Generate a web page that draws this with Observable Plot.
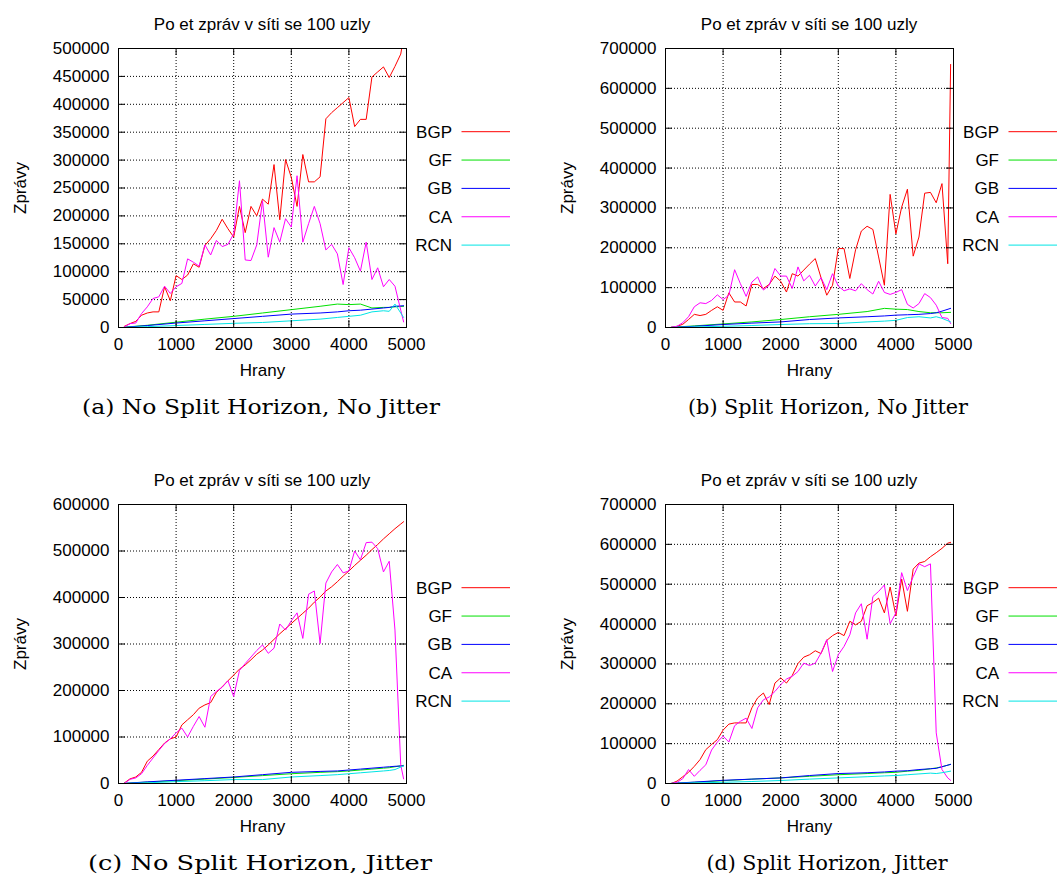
<!DOCTYPE html>
<html>
<head>
<meta charset="utf-8">
<script src="https://cdn.jsdelivr.net/npm/d3@7"></script>
<script src="https://cdn.jsdelivr.net/npm/@observablehq/plot@0.6"></script>
<style>
  html, body { margin: 0; padding: 0; background: #fff; }
  body { width: 1057px; height: 875px; position: relative; overflow: hidden; font-family: "Liberation Sans", Arial, sans-serif; }
  .panel { position: absolute; }
  .panel svg { position: absolute; left: 0; top: 0; overflow: visible; }
</style>
</head>
<body>
<script>
// ---------- data ----------
const SERIES = ["BGP", "GF", "GB", "CA", "RCN"];
const COLORS = ["#ff0000", "#00e000", "#0000ff", "#ff00ff", "#00e5e5"];
const TITLE = "Po et zpráv v síti se 100 uzly";
const X_LABEL = "Hrany";
const Y_LABEL = "Zprávy";
const CAPTIONS = [
  "(a) No Split Horizon, No Jitter",
  "(b) Split Horizon, No Jitter",
  "(c) No Split Horizon, Jitter",
  "(d) Split Horizon, Jitter"
];

const X_TICKS = [0, 1000, 2000, 3000, 4000, 5000];
const Y_TICKS_A = [0, 50000, 100000, 150000, 200000, 250000, 300000, 350000, 400000, 450000, 500000];
const Y_TICKS_B = [0, 100000, 200000, 300000, 400000, 500000, 600000, 700000];
const Y_TICKS_C = [0, 100000, 200000, 300000, 400000, 500000, 600000];
const Y_TICKS_D = [0, 100000, 200000, 300000, 400000, 500000, 600000, 700000];

// edges for the jagged series (BGP, CA)
const EDGES = [100, 200, 300, 400, 500, 600, 700, 800, 900, 1000,
  1100, 1200, 1300, 1400, 1500, 1600, 1700, 1800, 1900, 2000,
  2100, 2200, 2300, 2400, 2500, 2600, 2700, 2800, 2900, 3000,
  3100, 3200, 3300, 3400, 3500, 3600, 3700, 3800, 3900, 4000,
  4100, 4200, 4300, 4400, 4500, 4600, 4700, 4800, 4900, 4950];
// edges read for the smooth series (GF, GB, RCN)
const SMOOTH_EDGES = [100, 500, 1000, 1500, 2000, 2500, 3000, 3500, 3800, 4000, 4200, 4400, 4600, 4700, 4800, 4950];

// (a) No Split Horizon, No Jitter
const A_BGP = [2000, 7000, 11000, 22000, 26000, 28000, 28000, 73000, 48000, 93000,
  86000, 94000, 114000, 108000, 147000, 159000, 174000, 194000, 177000, 162000,
  217000, 170000, 217000, 200000, 230000, 221000, 292000, 193000, 301000, 269000,
  217000, 310000, 261000, 261000, 270000, 374000, 385000, 394000, 403000, 412000,
  360000, 373000, 373000, 449000, 458000, 467000, 448000, 468000, 490000, 520000];
const A_CA = [1000, 7000, 8000, 25000, 37000, 52000, 55000, 74000, 61000, 73000,
  79000, 123000, 117000, 110000, 148000, 130000, 156000, 145000, 149000, 168000,
  263000, 121000, 120000, 148000, 227000, 126000, 179000, 153000, 195000, 180000,
  272000, 153000, 186000, 217000, 186000, 139000, 149000, 132000, 77000, 143000,
  125000, 101000, 153000, 86000, 107000, 73000, 86000, 74000, 31000, 10000];
const A_GF = [500, 4000, 9500, 15000, 20000, 26000, 32000, 38000, 42000, 41000, 42000, 35000, 36000, 36000, 37000, 38000];
const A_GB = [300, 3500, 8000, 12000, 16000, 20000, 24000, 26000, 28000, 30000, 31000, 33000, 35000, 36000, 38000, 39000];
const A_RCN = [0, 1500, 3500, 5500, 7500, 9000, 12000, 15000, 18000, 20000, 22000, 28000, 30000, 29000, 42000, 18000];

// (b) Split Horizon, No Jitter
const B_BGP = [500, 3000, 8000, 20000, 33000, 30000, 33000, 43000, 52000, 43000,
  87000, 64000, 64000, 54000, 108000, 108000, 98000, 108000, 129000, 116000,
  89000, 135000, 129000, 144000, 159000, 173000, 125000, 81000, 106000, 198000,
  198000, 123000, 195000, 242000, 254000, 246000, 177000, 106000, 334000, 235000,
  302000, 347000, 179000, 227000, 337000, 339000, 313000, 361000, 160000, 660000];
const B_CA = [500, 3000, 12000, 27000, 52000, 62000, 60000, 68000, 82000, 70000,
  81000, 145000, 110000, 78000, 114000, 127000, 94000, 106000, 148000, 129000,
  129000, 98000, 152000, 117000, 131000, 104000, 125000, 95000, 135000, 104000,
  92000, 97000, 92000, 110000, 95000, 84000, 116000, 88000, 83000, 88000,
  95000, 58000, 49000, 60000, 85000, 75000, 56000, 25000, 23000, 10000];
const B_GF = [500, 4000, 9000, 14000, 20000, 27000, 33000, 40000, 48000, 46000, 45000, 40000, 37000, 37000, 37000, 38000];
const B_GB = [300, 3000, 7500, 11000, 14000, 20000, 24000, 27000, 29000, 31000, 32000, 33000, 35000, 37000, 41000, 48000];
const B_RCN = [0, 1500, 3000, 5000, 7500, 9500, 10000, 14000, 16000, 18000, 25000, 27000, 24000, 27000, 23000, 14000];

// (c) No Split Horizon, Jitter
const C_BGP = [1000, 10000, 14000, 24000, 48000, 59000, 73000, 87000, 96000, 100000,
  126000, 137000, 148000, 162000, 169000, 174000, 196000, 208000, 221000, 233000,
  246000, 255000, 266000, 278000, 287000, 298000, 310000, 322000, 333000, 344000,
  355000, 366000, 377000, 390000, 401000, 414000, 423000, 434000, 446000, 457000,
  469000, 480000, 491000, 503000, 514000, 526000, 537000, 548000, 558000, 563000];
const C_CA = [0, 9000, 12000, 21000, 39000, 55000, 71000, 86000, 96000, 109000,
  119000, 100000, 123000, 144000, 121000, 187000, 198000, 207000, 221000, 187000,
  243000, 258000, 272000, 286000, 298000, 280000, 291000, 343000, 330000, 350000,
  367000, 312000, 407000, 414000, 301000, 431000, 455000, 471000, 453000, 457000,
  500000, 481000, 518000, 519000, 505000, 455000, 478000, 330000, 40000, 10000];
const C_GF = [300, 3000, 6000, 9500, 13000, 17000, 21000, 24000, 25500, 27000, 29000, 31000, 33000, 34000, 36000, 39000];
const C_GB = [300, 3500, 7000, 10500, 14000, 19000, 24000, 26000, 27000, 29000, 31000, 33000, 35000, 36000, 37000, 38000];
const C_RCN = [0, 1500, 4000, 6000, 8500, 8500, 14000, 17000, 19000, 21000, 23000, 25000, 27000, 28000, 30000, 38000];

// (d) Split Horizon, Jitter
const D_BGP = [0, 6000, 17000, 28000, 43000, 60000, 85000, 98000, 110000, 134000,
  149000, 152000, 152000, 152000, 190000, 215000, 227000, 198000, 252000, 265000,
  252000, 271000, 301000, 317000, 323000, 333000, 326000, 359000, 371000, 379000,
  371000, 407000, 398000, 407000, 446000, 454000, 465000, 428000, 493000, 421000,
  513000, 432000, 538000, 553000, 557000, 569000, 579000, 590000, 603000, 605000];
const D_CA = [0, 3000, 12000, 35000, 18000, 33000, 47000, 84000, 104000, 119000,
  104000, 145000, 156000, 164000, 138000, 190000, 210000, 217000, 231000, 248000,
  262000, 269000, 281000, 302000, 296000, 302000, 327000, 361000, 281000, 323000,
  344000, 373000, 428000, 451000, 362000, 469000, 482000, 498000, 401000, 428000,
  529000, 484000, 519000, 551000, 544000, 551000, 127000, 35000, 14000, 8000];
const D_GF = [300, 3000, 7000, 11000, 14000, 18000, 22000, 25000, 27000, 28000, 31000, 33000, 37000, 39000, 42000, 48000];
const D_GB = [300, 3500, 8000, 11000, 14000, 20000, 25000, 27000, 29000, 31000, 32000, 35000, 37000, 38000, 42000, 48000];
const D_RCN = [0, 1500, 3000, 5000, 7500, 11000, 14000, 17000, 19000, 20000, 22000, 24000, 26000, 25000, 27000, 31000];

// ---------- layout ----------
const JAGGED = [true, false, false, true, false];
const W = 510, H = 440, ML = 118, MT = 48, FW = 288, FH = 279;
const FONT = "Liberation Sans, Arial, sans-serif";

const PANELS = [
  {left: 0,   top: 0,   yTicks: Y_TICKS_A, data: [A_BGP, A_GF, A_GB, A_CA, A_RCN], caption: CAPTIONS[0], capX: 261, capW: 358},
  {left: 547, top: 0,   yTicks: Y_TICKS_B, data: [B_BGP, B_GF, B_GB, B_CA, B_RCN], caption: CAPTIONS[1], capX: 281, capW: 280},
  {left: 0,   top: 456, yTicks: Y_TICKS_C, data: [C_BGP, C_GF, C_GB, C_CA, C_RCN], caption: CAPTIONS[2], capX: 260, capW: 344},
  {left: 547, top: 456, yTicks: Y_TICKS_D, data: [D_BGP, D_GF, D_GB, D_CA, D_RCN], caption: CAPTIONS[3], capX: 280, capW: 241}
];

function render(p) {
  const div = document.createElement("div");
  div.className = "panel";
  div.style.left = p.left + "px";
  div.style.top = p.top + "px";
  div.style.width = W + "px";
  div.style.height = H + "px";
  document.body.appendChild(div);

  const ymax = p.yTicks[p.yTicks.length - 1];
  const marks = [];
  marks.push(Plot.ruleY(p.yTicks.slice(1, -1), {y: d => d, stroke: "#000", strokeWidth: 1, strokeDasharray: "1,2"}));
  marks.push(Plot.ruleX(X_TICKS.slice(1, -1), {x: d => d, stroke: "#000", strokeWidth: 1, strokeDasharray: "1,2"}));
  SERIES.forEach((name, i) => {
    const xs = JAGGED[i] ? EDGES : SMOOTH_EDGES;
    const rows = xs.map((x, j) => ({x, y: p.data[i][j], s: name}));
    marks.push(Plot.line(rows, {x: "x", y: "y", stroke: COLORS[i], strokeWidth: 1, clip: true}));
  });
  // inner ticks on all four sides
  marks.push(Plot.tickY(p.yTicks, {y: d => d, insetRight: FW - 7, stroke: "#000"}));
  marks.push(Plot.tickY(p.yTicks, {y: d => d, insetLeft: FW - 7, stroke: "#000"}));
  marks.push(Plot.tickX(X_TICKS, {x: d => d, insetTop: FH - 7, stroke: "#000"}));
  marks.push(Plot.tickX(X_TICKS, {x: d => d, insetBottom: FH - 7, stroke: "#000"}));
  marks.push(Plot.frame({stroke: "#000", strokeWidth: 1}));
  marks.push(Plot.axisY(p.yTicks, {
    tickSize: 0, tickPadding: 9, tickFormat: d => String(d),
    label: Y_LABEL, labelAnchor: "center", labelOffset: 105, labelArrow: "none"
  }));
  marks.push(Plot.axisX(X_TICKS, {
    tickSize: 0, tickPadding: 10, tickFormat: d => String(d),
    label: X_LABEL, labelAnchor: "center", labelOffset: 48, labelArrow: "none"
  }));

  const chart = Plot.plot({
    width: W, height: H,
    marginLeft: ML, marginRight: W - ML - FW, marginTop: MT, marginBottom: H - MT - FH,
    x: {domain: [0, 5000]},
    y: {domain: [0, ymax]},
    style: {fontFamily: FONT, fontSize: "17px", background: "transparent", color: "#000"},
    marks
  });
  div.appendChild(chart);

  // overlay: title, legend, caption
  const ov = d3.select(div).append("svg")
    .attr("width", W).attr("height", H)
    .style("font-family", FONT);
  ov.append("text")
    .attr("x", ML + FW / 2).attr("y", 30)
    .attr("text-anchor", "middle")
    .attr("font-size", 17)
    .text(TITLE);
  SERIES.forEach((name, i) => {
    const y = 131.7 + i * 28.35;
    ov.append("text")
      .attr("x", 452).attr("y", y + 6)
      .attr("text-anchor", "end")
      .attr("font-size", 17)
      .text(name);
    ov.append("line")
      .attr("x1", 461.5).attr("x2", 510)
      .attr("y1", y).attr("y2", y)
      .attr("stroke", COLORS[i]).attr("stroke-width", 1);
  });
  ov.append("text")
    .attr("x", p.capX).attr("y", 414)
    .attr("text-anchor", "middle")
    .attr("font-family", "DejaVu Serif, serif")
    .attr("font-size", 21)
    .attr("textLength", p.capW)
    .attr("lengthAdjust", "spacingAndGlyphs")
    .text(p.caption);
}

PANELS.forEach(render);
</script>
</body>
</html>
